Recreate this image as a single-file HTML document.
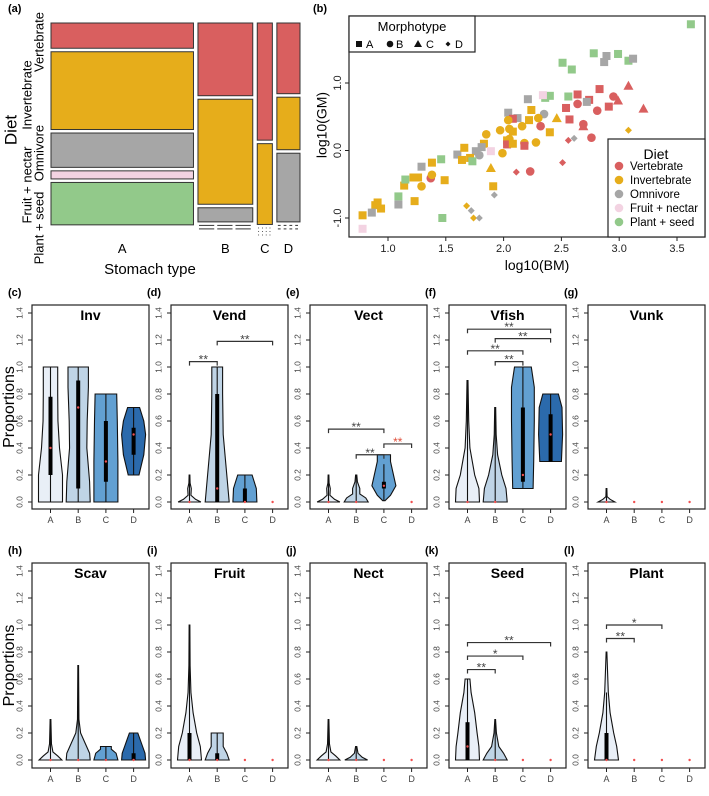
<!DOCTYPE html>
<html><head><meta charset="utf-8"><style>
body{margin:0;background:#fff}
svg{display:block;font-family:"Liberation Sans",Arial,sans-serif}
</style></head><body>
<svg id="fig" width="709" height="796" viewBox="0 0 709 796" xmlns="http://www.w3.org/2000/svg">
<g id="pa"></g>
<g id="pb"></g>
<g id="pv"></g>
</svg>
<script>
const NS="http://www.w3.org/2000/svg";
function mk(p,t,a,txt){const e=document.createElementNS(NS,t);for(const k in a)e.setAttribute(k,a[k]);if(txt!==undefined)e.textContent=txt;p.appendChild(e);return e;}

// ===== Panel (a) mosaic data =====
const stomachTypes=["A","B","C","D"];
const dietCats=["Vertebrate","Invertebrate","Omnivore","Fruit + nectar","Plant + seed"];
const dietColors=["#d95f5f","#e6ad1b","#a6a6a6","#f3d3e2","#92c98a"];
const stomachShare=[0.585,0.225,0.062,0.095];
const mosaicA=[0.125,0.385,0.17,0.04,0.21];
const mosaicB=[0.36,0.52,0.07,0,0];
const mosaicC=[0.58,0.4,0,0,0];
const mosaicD=[0.35,0.26,0.34,0,0];
const mosaicProps=[mosaicA,mosaicB,mosaicC,mosaicD];

// ===== Panel (b) scatter data =====
const bmVals=[3.62,2.78,2.89,2.87,2.99,3.08,3.12,2.51,2.59,3.08,
2.99,3.21,2.95,2.83,2.64,2.74,2.72,2.64,2.81,2.91,
2.54,2.57,2.69,2.76,2.61,2.56,2.51,3.08,2.40,2.36,
2.34,2.56,2.21,2.46,2.35,2.24,2.22,2.30,2.32,2.40,
2.04,2.12,2.08,2.04,2.05,2.08,2.16,1.97,1.85,2.05,
2.03,2.03,2.08,2.18,2.18,2.28,1.99,1.83,1.81,1.79,
1.76,1.89,1.60,1.66,1.64,1.71,1.73,1.46,1.89,2.11,
2.23,1.91,1.92,1.38,1.29,1.26,1.22,1.14,1.37,1.38,
1.29,1.49,1.15,1.09,1.09,1.23,0.91,0.89,0.94,0.86,
0.78,0.78,1.47,1.68,1.72,1.74,1.79,2.69];
const gmVals=[1.87,1.44,1.40,1.31,1.43,1.33,1.36,1.30,1.20,0.96,
0.74,0.62,0.80,0.91,0.83,0.75,0.72,0.69,0.59,0.65,
0.63,0.46,0.39,0.19,0.18,0.15,-0.18,0.30,0.81,0.78,
0.82,0.80,0.76,0.48,0.54,0.60,0.45,0.48,0.36,0.27,
0.56,0.48,0.47,0.45,0.32,0.28,0.36,0.30,0.24,0.17,
0.15,0.09,0.10,0.11,0.07,0.12,-0.04,0.10,0.05,-0.07,
-0.01,-0.01,-0.06,0.04,-0.14,-0.11,-0.16,-0.13,-0.26,-0.32,
-0.31,-0.53,-0.66,-0.18,-0.24,-0.40,-0.40,-0.52,-0.41,-0.36,
-0.53,-0.44,-0.43,-0.68,-0.80,-0.75,-0.77,-0.81,-0.86,-0.92,
-0.96,-1.16,-1.00,-0.82,-0.89,-1.00,-1.00,0.36];
const morphVals=["A","A","A","A","A","A","A","A","A","C",
"C","C","B","A","A","A","A","B","B","A",
"A","A","B","B","D","D","D","D","A","A",
"A","A","A","C","B","A","A","B","B","A",
"A","A","A","B","B","A","B","B","B","B",
"A","A","A","B","A","B","B","A","A","B",
"A","A","A","A","A","A","A","A","C","D",
"B","A","D","A","A","A","A","A","B","B",
"B","A","A","A","A","A","A","A","A","A",
"A","A","A","D","D","D","D","C"];
const dietVals=["G","G","O","O","G","G","O","G","G","R",
"R","R","R","R","R","R","O","R","R","R",
"R","R","R","R","O","R","R","I","G","G",
"P","G","O","I","O","I","I","I","R","I",
"O","O","R","I","I","I","I","I","I","I",
"I","R","I","I","R","I","I","I","O","O",
"O","P","O","I","I","I","G","G","I","R",
"R","I","O","I","O","I","I","I","R","I",
"I","I","G","G","O","I","I","I","I","O",
"I","P","G","I","O","I","O","R"];
const xTicksB=[1.0,1.5,2.0,2.5,3.0,3.5];
const yTicksB=[-1.0,0.0,1.0];

// ===== Violin panels data =====
const panelIds=["c","d","e","f","g","h","i","j","k","l"];
const panelTitles=["Inv","Vend","Vect","Vfish","Vunk","Scav","Fruit","Nect","Seed","Plant"];
const yTicksV=[0.0,0.2,0.4,0.6,0.8,1.0,1.2,1.4];
const violinFills=["#e9eff7","#bfd4e6","#62a0d2","#2b6aac"];
const shapes={
c:[[[0,1],[0.2,1],[0.4,0.75],[0.6,0.62],[0.8,0.6],[1,0.6]],[[0,1],[0.15,0.95],[0.4,0.72],[0.6,0.75],[0.85,0.85],[1,0.85]],[[0,1],[0.3,1],[0.6,0.95],[0.8,0.9]],[[0.2,0.45],[0.35,0.85],[0.5,1],[0.6,0.85],[0.7,0.5]]],
d:[[[0,0.95],[0.02,0.5],[0.05,0.12],[0.1,0.15],[0.14,0.05],[0.2,0.03]],[[0,1],[0.1,0.9],[0.3,0.7],[0.5,0.5],[0.8,0.45],[1,0.45]],[[0,1],[0.1,0.95],[0.2,0.6]],null],
e:[[[0,0.95],[0.02,0.5],[0.05,0.12],[0.1,0.15],[0.14,0.05],[0.2,0.03]],[[0,1],[0.03,0.8],[0.06,0.3],[0.1,0.3],[0.15,0.1],[0.2,0.05]],[[0.01,0.1],[0.05,0.55],[0.12,1],[0.2,0.8],[0.3,0.55],[0.35,0.55]],null],
f:[[[0,1],[0.1,0.95],[0.2,0.6],[0.4,0.2],[0.6,0.1],[0.9,0.04]],[[0,1],[0.1,0.9],[0.2,0.55],[0.35,0.2],[0.5,0.08],[0.7,0.04]],[[0.1,0.85],[0.3,0.9],[0.6,0.95],[0.85,0.95],[1,0.7]],[[0.3,0.9],[0.5,1],[0.7,0.95],[0.8,0.65]]],
g:[[[0,0.7],[0.02,0.3],[0.04,0.05],[0.1,0.03]],null,null,null],
h:[[[0,0.95],[0.03,0.6],[0.06,0.2],[0.12,0.08],[0.3,0.03]],[[0,1],[0.05,0.95],[0.1,0.7],[0.2,0.2],[0.3,0.06],[0.7,0.03]],[[0,1],[0.05,0.85],[0.08,0.45],[0.1,0.45]],[[0,1],[0.05,0.95],[0.1,0.75],[0.2,0.35]]],
i:[[[0,1],[0.1,0.9],[0.2,0.6],[0.35,0.3],[0.5,0.12],[0.7,0.05],[1,0.03]],[[0,1],[0.05,0.8],[0.1,0.5],[0.2,0.5]],null,null],
j:[[[0,0.95],[0.03,0.6],[0.06,0.2],[0.12,0.08],[0.3,0.03]],[[0,0.95],[0.02,0.5],[0.05,0.15],[0.1,0.05]],null,null],
k:[[[0,1],[0.1,0.95],[0.2,0.8],[0.35,0.6],[0.5,0.3],[0.6,0.2]],[[0,1],[0.05,0.7],[0.1,0.3],[0.2,0.1],[0.3,0.03]],null,null],
l:[[[0,1],[0.1,0.85],[0.2,0.6],[0.35,0.3],[0.5,0.15],[0.8,0.03]],null,null,null]
};
const stats={
c:[[0,0.2,0.4,0.78,1],[0,0.1,0.7,0.9,1],[0,0.15,0.3,0.6,0.8],[0.2,0.35,0.5,0.55,0.7]],
d:[[0,0,0,0,0.2],[0,0,0.1,0.8,1],[0,0,0,0.1,0.2],[0,0,0,0,0]],
e:[[0,0,0,0,0.2],[0,0,0,0,0.2],[0.01,0.1,0.12,0.15,0.28],[0,0,0,0,0]],
f:[[0,0,0,0,0.9],[0,0,0,0,0.7],[0.1,0.15,0.2,0.7,1],[0.3,0.3,0.5,0.65,0.8]],
g:[[0,0,0,0,0.1],[0,0,0,0,0],[0,0,0,0,0],[0,0,0,0,0]],
h:[[0,0,0,0,0.3],[0,0,0,0,0.7],[0,0,0,0,0.1],[0,0,0,0.05,0.2]],
i:[[0,0,0,0.2,1],[0,0,0,0.05,0.2],[0,0,0,0,0],[0,0,0,0,0]],
j:[[0,0,0,0,0.3],[0,0,0,0,0.1],[0,0,0,0,0],[0,0,0,0,0]],
k:[[0,0,0.1,0.28,0.6],[0,0,0,0,0.3],[0,0,0,0,0],[0,0,0,0,0]],
l:[[0,0,0,0.2,0.5],[0,0,0,0,0],[0,0,0,0,0],[0,0,0,0,0]]
};
const brackets={
d:[[0,1,1.04,"**",0],[1,3,1.19,"**",0]],
e:[[0,2,0.54,"**",0],[1,2,0.35,"**",0],[2,3,0.43,"**",1]],
f:[[0,3,1.28,"**",0],[1,3,1.21,"**",0],[0,2,1.12,"**",0],[1,2,1.04,"**",0]],
k:[[0,1,0.67,"**",0],[0,2,0.77,"*",0],[0,3,0.87,"**",0]],
l:[[0,1,0.9,"**",0],[0,2,1.0,"*",0]]
};

// ===== Draw panel (a) =====
(function(){
const g=document.getElementById("pa");
mk(g,"text",{x:8,y:12,"font-size":11,"font-weight":"bold"},"(a)");
const x0=51,x1=300,y0=23,y1=239,gapX=4.5,gapY=3.5;
const totalW=x1-x0-gapX*3;
let cx=x0;
stomachTypes.forEach((s,si)=>{
  const w=totalW*stomachShare[si]/stomachShare.reduce((a,b)=>a+b,0);
  const props=mosaicProps[si];
  const avail=(y1-y0)-gapY*4;
  let cy=y0;
  props.forEach((p,di)=>{
    if(p>0){
      const h=avail*p;
      const r=mk(g,"rect",{x:cx,y:cy,width:w,height:h,fill:dietColors[di],stroke:"#333","stroke-width":1});
      
      
      cy+=h+gapY;
    }else{
      const segs=si===1?3:4;
      const seg=w/segs;
      for(let k=0;k<segs;k++){
        const l=mk(g,"line",{x1:cx+k*seg+1,x2:cx+(k+1)*seg-2,y1:cy,y2:cy,stroke:"#333","stroke-width":1});
        
        
      }
      cy+=gapY;
    }
  });
  const t=mk(g,"text",{x:cx+w/2,y:253,"font-size":13,"text-anchor":"middle"},s);
  
  
  cx+=w+gapX;
});
const lab=[["Vertebrate",40,42],["Invertebrate",28,95],["Omnivore",40,153],["Fruit + nectar",28,185],["Plant + seed",40,228]];
lab.forEach(([t,x,y])=>{const e=mk(g,"text",{x:x,y:y,"font-size":13,"text-anchor":"middle",transform:`rotate(-90 ${x} ${y})`,"dominant-baseline":"middle"},t);});
const d=mk(g,"text",{x:12,y:130,"font-size":17,"text-anchor":"middle",transform:"rotate(-90 12 130)","dominant-baseline":"middle"},"Diet");

const st=mk(g,"text",{x:150,y:274,"font-size":15,"text-anchor":"middle"},"Stomach type");

})();

// ===== Draw panel (b) =====
(function(){
const g=document.getElementById("pb");
const L=349,R=705,T=16,B=237;
const xs=v=>388+(v-1.0)*115.6, ys=v=>150.5-v*67.5;
mk(g,"text",{x:313,y:12,"font-size":11,"font-weight":"bold"},"(b)");
const cmap={R:dietColors[0],I:dietColors[1],O:dietColors[2],P:dietColors[3],G:dietColors[4]};
bmVals.forEach((bm,i)=>{
  const x=xs(bm),y=ys(gmVals[i]),c=cmap[dietVals[i]]||"#a6a6a6",m=morphVals[i];let e;
  if(m==="A")e=mk(g,"rect",{x:x-4,y:y-4,width:8,height:8,fill:c});
  else if(m==="B")e=mk(g,"circle",{cx:x,cy:y,r:4.3,fill:c});
  else if(m==="C")e=mk(g,"polygon",{points:`${x},${y-5} ${x+5},${y+4} ${x-5},${y+4}`,fill:c});
  else e=mk(g,"polygon",{points:`${x},${y-3.5} ${x+3.5},${y} ${x},${y+3.5} ${x-3.5},${y}`,fill:c});
  
  
});
mk(g,"rect",{x:L,y:T,width:R-L,height:B-T,fill:"none",stroke:"#222","stroke-width":1.2});
xTicksB.forEach(v=>{const x=xs(v);mk(g,"line",{x1:x,x2:x,y1:B,y2:B+4,stroke:"#222"});const t=mk(g,"text",{x:x,y:B+15,"font-size":11,"text-anchor":"middle",fill:"#222"},v.toFixed(1));});
yTicksB.forEach(v=>{const y=ys(v);mk(g,"line",{x1:L-4,x2:L,y1:y,y2:y,stroke:"#222"});const t=mk(g,"text",{x:338,y:y,"font-size":11,"text-anchor":"middle","dominant-baseline":"middle",transform:`rotate(-90 338 ${y})`,fill:"#222"},v.toFixed(1));});
const xt=mk(g,"text",{x:537,y:270,"font-size":14,"text-anchor":"middle"},"log10(BM)");
const yt=mk(g,"text",{x:323,y:125,"font-size":14,"text-anchor":"middle","dominant-baseline":"middle",transform:"rotate(-90 323 125)"},"log10(GM)");
const lg=mk(g,"g",{});
mk(lg,"rect",{x:L,y:T,width:126,height:36,fill:"#fff",stroke:"#222","stroke-width":1.2});
mk(lg,"text",{x:412,y:31,"font-size":13,"text-anchor":"middle"},"Morphotype");
mk(lg,"rect",{x:356,y:41,width:6,height:6,fill:"#111"});mk(lg,"text",{x:366,y:48,"font-size":11},"A");
mk(lg,"circle",{cx:390,cy:44,r:3.3,fill:"#111"});mk(lg,"text",{x:396,y:48,"font-size":11},"B");
mk(lg,"polygon",{points:"418,40 422,47 414,47",fill:"#111"});mk(lg,"text",{x:426,y:48,"font-size":11},"C");
mk(lg,"polygon",{points:"448,41.5 450.5,44 448,46.5 445.5,44",fill:"#111"});mk(lg,"text",{x:455,y:48,"font-size":11},"D");
const dg=mk(g,"g",{});
mk(dg,"rect",{x:608,y:139,width:97,height:98,fill:"#fff",stroke:"#222","stroke-width":1.2});
mk(dg,"text",{x:656,y:159,"font-size":14,"text-anchor":"middle"},"Diet");
dietCats.forEach((c,i)=>{const y=166+i*14;const e=mk(dg,"circle",{cx:619,cy:y,r:4.3,fill:dietColors[i]});mk(dg,"text",{x:630,y:y+4,"font-size":11.5},c);});
})();

// ===== Violin panels =====
(function(){
const g=document.getElementById("pv");
const lefts=[32,171,310,449,588];
panelIds.forEach((pid,pi)=>{
  const row=pi<5?0:1,col=pi%5;
  const L=lefts[col],W=117,T=row?563:305,B=row?768:509;
  const y0=row?760:502,y14=row?571:313;
  const ys=v=>y0-(y0-y14)*v/1.4;
  const xs=i=>L+18.5+i*27.7;
  const pg=mk(g,"g",{});
  
  
  mk(pg,"text",{x:L-24,y:T-9,"font-size":11,"font-weight":"bold"},"("+pid+")");
  const maxHW=12;
  for(let c=0;c<4;c++){
    const sh=shapes[pid][c],s=stats[pid][c],x=xs(c);
    if(sh){
      let pts=sh.map(([v,w])=>`${x+w*maxHW},${ys(v)}`);
      let pts2=sh.slice().reverse().map(([v,w])=>`${x-w*maxHW},${ys(v)}`);
      const vp=mk(pg,"polygon",{points:pts.concat(pts2).join(" "),fill:violinFills[c],stroke:"#111","stroke-width":1.1});
      
      
      mk(pg,"line",{x1:x,x2:x,y1:ys(s[0]),y2:ys(s[4]),stroke:"#111","stroke-width":1.1});
      if(s[3]>s[1])mk(pg,"line",{x1:x,x2:x,y1:ys(s[1]),y2:ys(s[3]),stroke:"#000","stroke-width":4});
    }
    const md=mk(pg,"circle",{cx:x,cy:ys(s[2]),r:1.2,fill:"#f05050"});
    
    
  }
  mk(pg,"rect",{x:L,y:T,width:W,height:B-T,fill:"none",stroke:"#222","stroke-width":1.2});
  const tt=mk(pg,"text",{x:L+W/2,y:T+15,"font-size":14,"font-weight":"bold","text-anchor":"middle"},panelTitles[pi]);
  
  yTicksV.forEach(v=>{const y=ys(v);mk(pg,"line",{x1:L-4,x2:L,y1:y,y2:y,stroke:"#222"});
    const t=mk(pg,"text",{x:L-12,y:y,"font-size":8.5,fill:"#444","text-anchor":"middle","dominant-baseline":"middle",transform:`rotate(-90 ${L-12} ${y})`},v.toFixed(1));
    });
  stomachTypes.forEach((s,i)=>{const x=xs(i);mk(pg,"line",{x1:x,x2:x,y1:B,y2:B+4,stroke:"#222"});
    const t=mk(pg,"text",{x:x,y:B+14,"font-size":9,fill:"#444","text-anchor":"middle"},s);
    });
  (brackets[pid]||[]).forEach(([a,b,v,lab,red])=>{
    const y=ys(v),xa=xs(a),xb=xs(b);
    const bg=mk(pg,"g",{});
    
    
    mk(bg,"path",{d:`M${xa},${y+4}V${y}H${xb}V${y+4}`,fill:"none",stroke:"#333","stroke-width":1.2});
    mk(bg,"text",{x:(xa+xb)/2,y:y+2,"font-size":12,fill:red?"#e0503c":"#444","text-anchor":"middle"},lab);
  });
  if(col===0){
    const cy=(T+B)/2;
    const pt=mk(g,"text",{x:10,y:cy,"font-size":16,"text-anchor":"middle","dominant-baseline":"middle",transform:`rotate(-90 10 ${cy})`},"Proportions");
    
  }
});
})();
</script>
</body></html>
